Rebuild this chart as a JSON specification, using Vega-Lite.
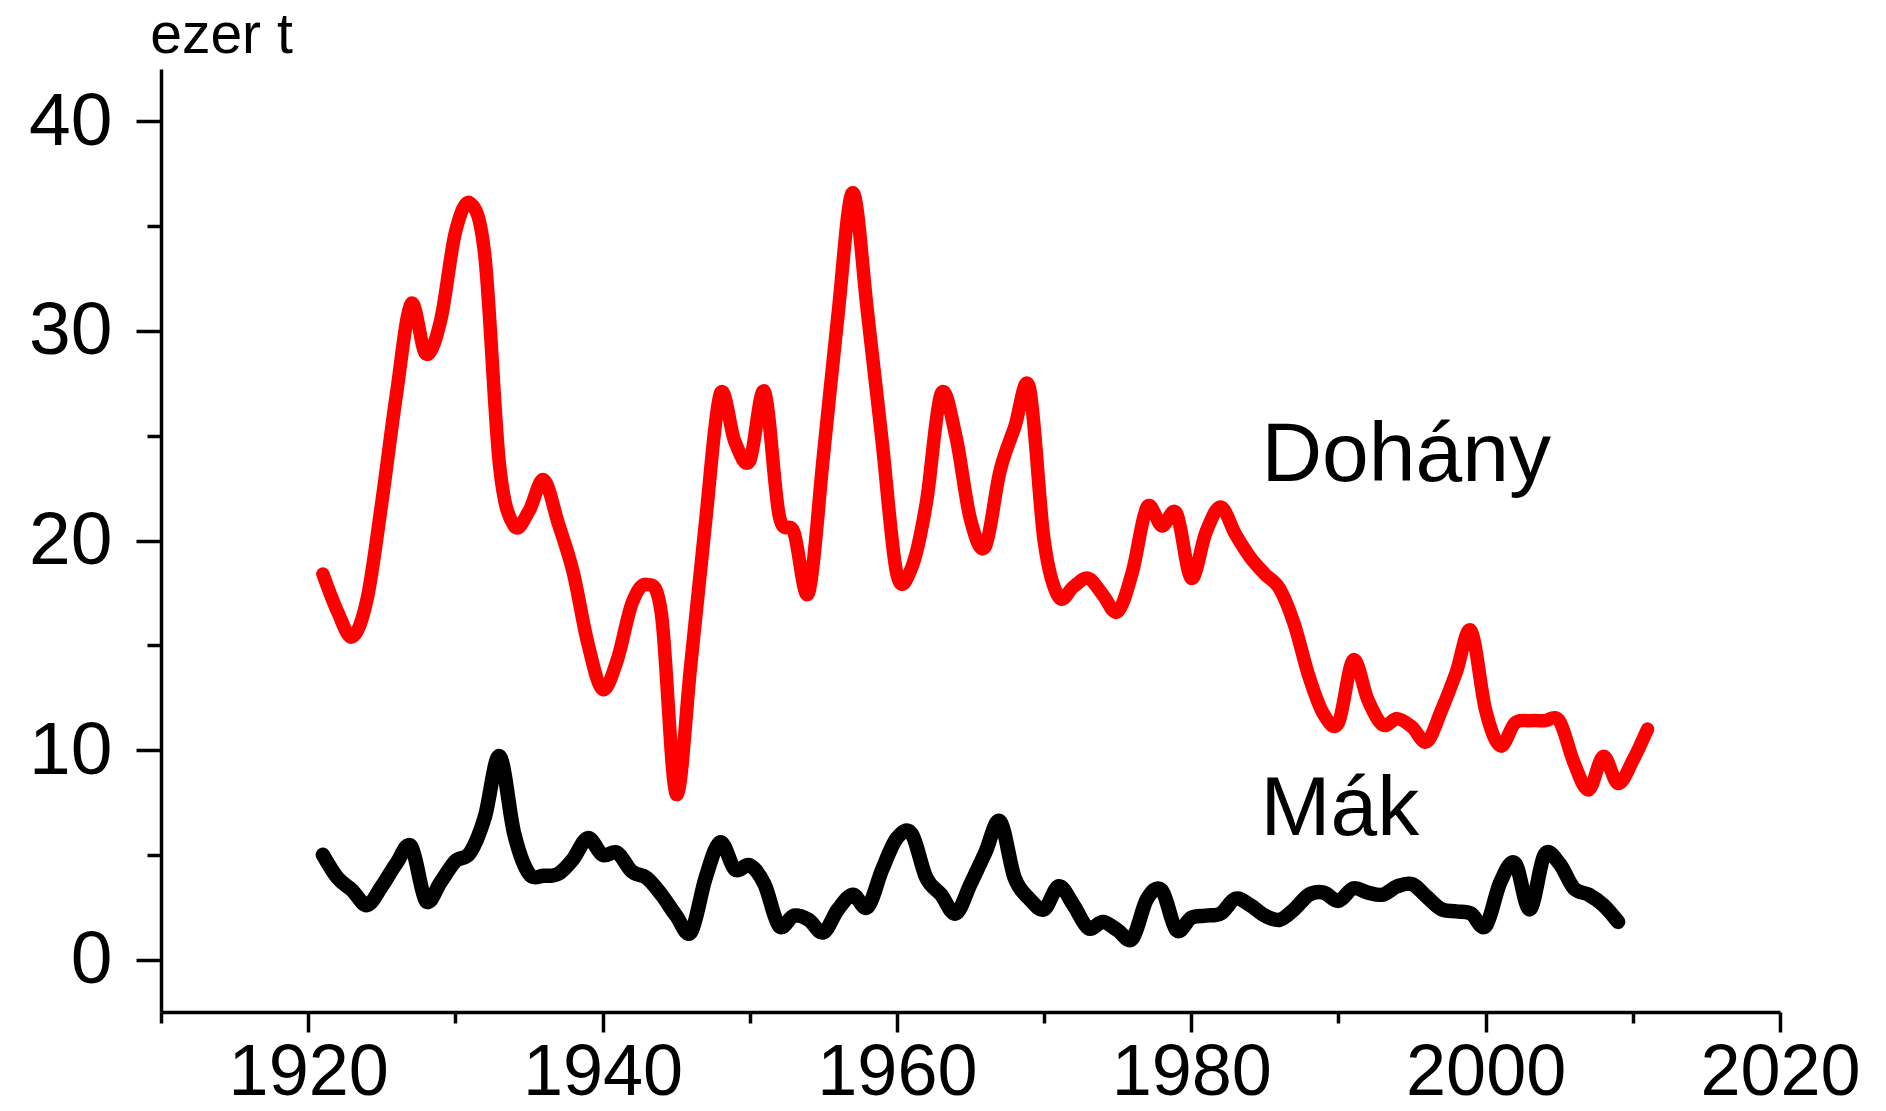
{
  "$schema": "https://vega.github.io/schema/vega-lite/v6.json",
  "width": 1619,
  "height": 943,
  "autosize": {"type": "none"},
  "padding": {"left": 161, "top": 69, "right": 106, "bottom": 99},
  "background": "white",
  "config": {
    "view": {"stroke": null},
    "axis": {
      "grid": false,
      "domainColor": "black",
      "domainWidth": 3.5,
      "tickColor": "black",
      "tickWidth": 3.5,
      "labelColor": "black",
      "labelFont": "Liberation Sans",
      "labelFontSize": 75,
      "labelOverlap": false,
      "labelFlush": false,
      "labelBound": false,
      "titleFont": "Liberation Sans",
      "titleColor": "black",
      "titleFontWeight": "normal"
    }
  },
  "datasets": {
    "prod": [
      {"year": 1921, "value": 18.4, "series": "Dohány"},
      {"year": 1922, "value": 16.6, "series": "Dohány"},
      {"year": 1923, "value": 15.4, "series": "Dohány"},
      {"year": 1924, "value": 17.2, "series": "Dohány"},
      {"year": 1925, "value": 21.8, "series": "Dohány"},
      {"year": 1926, "value": 27.0, "series": "Dohány"},
      {"year": 1927, "value": 31.3, "series": "Dohány"},
      {"year": 1928, "value": 28.9, "series": "Dohány"},
      {"year": 1929, "value": 30.5, "series": "Dohány"},
      {"year": 1930, "value": 34.7, "series": "Dohány"},
      {"year": 1931, "value": 36.1, "series": "Dohány"},
      {"year": 1932, "value": 33.6, "series": "Dohány"},
      {"year": 1933, "value": 23.6, "series": "Dohány"},
      {"year": 1934, "value": 20.7, "series": "Dohány"},
      {"year": 1935, "value": 21.4, "series": "Dohány"},
      {"year": 1936, "value": 22.9, "series": "Dohány"},
      {"year": 1937, "value": 20.8, "series": "Dohány"},
      {"year": 1938, "value": 18.5, "series": "Dohány"},
      {"year": 1939, "value": 15.1, "series": "Dohány"},
      {"year": 1940, "value": 12.9, "series": "Dohány"},
      {"year": 1941, "value": 14.3, "series": "Dohány"},
      {"year": 1942, "value": 17.0, "series": "Dohány"},
      {"year": 1943, "value": 17.9, "series": "Dohány"},
      {"year": 1944, "value": 16.5, "series": "Dohány"},
      {"year": 1945, "value": 7.9, "series": "Dohány"},
      {"year": 1946, "value": 14.1, "series": "Dohány"},
      {"year": 1947, "value": 20.9, "series": "Dohány"},
      {"year": 1948, "value": 27.0, "series": "Dohány"},
      {"year": 1949, "value": 24.7, "series": "Dohány"},
      {"year": 1950, "value": 23.8, "series": "Dohány"},
      {"year": 1951, "value": 27.1, "series": "Dohány"},
      {"year": 1952, "value": 21.2, "series": "Dohány"},
      {"year": 1953, "value": 20.4, "series": "Dohány"},
      {"year": 1954, "value": 17.5, "series": "Dohány"},
      {"year": 1955, "value": 24.0, "series": "Dohány"},
      {"year": 1956, "value": 30.8, "series": "Dohány"},
      {"year": 1957, "value": 36.6, "series": "Dohány"},
      {"year": 1958, "value": 30.9, "series": "Dohány"},
      {"year": 1959, "value": 24.7, "series": "Dohány"},
      {"year": 1960, "value": 18.4, "series": "Dohány"},
      {"year": 1961, "value": 18.7, "series": "Dohány"},
      {"year": 1962, "value": 21.8, "series": "Dohány"},
      {"year": 1963, "value": 27.0, "series": "Dohány"},
      {"year": 1964, "value": 25.0, "series": "Dohány"},
      {"year": 1965, "value": 21.0, "series": "Dohány"},
      {"year": 1966, "value": 19.7, "series": "Dohány"},
      {"year": 1967, "value": 23.3, "series": "Dohány"},
      {"year": 1968, "value": 25.4, "series": "Dohány"},
      {"year": 1969, "value": 27.3, "series": "Dohány"},
      {"year": 1970, "value": 20.0, "series": "Dohány"},
      {"year": 1971, "value": 17.3, "series": "Dohány"},
      {"year": 1972, "value": 17.8, "series": "Dohány"},
      {"year": 1973, "value": 18.2, "series": "Dohány"},
      {"year": 1974, "value": 17.4, "series": "Dohány"},
      {"year": 1975, "value": 16.6, "series": "Dohány"},
      {"year": 1976, "value": 18.5, "series": "Dohány"},
      {"year": 1977, "value": 21.6, "series": "Dohány"},
      {"year": 1978, "value": 20.7, "series": "Dohány"},
      {"year": 1979, "value": 21.3, "series": "Dohány"},
      {"year": 1980, "value": 18.2, "series": "Dohány"},
      {"year": 1981, "value": 20.4, "series": "Dohány"},
      {"year": 1982, "value": 21.6, "series": "Dohány"},
      {"year": 1983, "value": 20.3, "series": "Dohány"},
      {"year": 1984, "value": 19.2, "series": "Dohány"},
      {"year": 1985, "value": 18.4, "series": "Dohány"},
      {"year": 1986, "value": 17.7, "series": "Dohány"},
      {"year": 1987, "value": 16.0, "series": "Dohány"},
      {"year": 1988, "value": 13.5, "series": "Dohány"},
      {"year": 1989, "value": 11.7, "series": "Dohány"},
      {"year": 1990, "value": 11.3, "series": "Dohány"},
      {"year": 1991, "value": 14.3, "series": "Dohány"},
      {"year": 1992, "value": 12.4, "series": "Dohány"},
      {"year": 1993, "value": 11.2, "series": "Dohány"},
      {"year": 1994, "value": 11.5, "series": "Dohány"},
      {"year": 1995, "value": 11.1, "series": "Dohány"},
      {"year": 1996, "value": 10.4, "series": "Dohány"},
      {"year": 1997, "value": 11.9, "series": "Dohány"},
      {"year": 1998, "value": 13.7, "series": "Dohány"},
      {"year": 1999, "value": 15.7, "series": "Dohány"},
      {"year": 2000, "value": 11.9, "series": "Dohány"},
      {"year": 2001, "value": 10.2, "series": "Dohány"},
      {"year": 2002, "value": 11.3, "series": "Dohány"},
      {"year": 2003, "value": 11.4, "series": "Dohány"},
      {"year": 2004, "value": 11.4, "series": "Dohány"},
      {"year": 2005, "value": 11.4, "series": "Dohány"},
      {"year": 2006, "value": 9.4, "series": "Dohány"},
      {"year": 2007, "value": 8.1, "series": "Dohány"},
      {"year": 2008, "value": 9.7, "series": "Dohány"},
      {"year": 2009, "value": 8.4, "series": "Dohány"},
      {"year": 2010, "value": 9.5, "series": "Dohány"},
      {"year": 2011, "value": 11.0, "series": "Dohány"},
      {"year": 1921, "value": 5.0, "series": "Mák"},
      {"year": 1922, "value": 3.9, "series": "Mák"},
      {"year": 1923, "value": 3.3, "series": "Mák"},
      {"year": 1924, "value": 2.6, "series": "Mák"},
      {"year": 1925, "value": 3.5, "series": "Mák"},
      {"year": 1926, "value": 4.6, "series": "Mák"},
      {"year": 1927, "value": 5.4, "series": "Mák"},
      {"year": 1928, "value": 2.8, "series": "Mák"},
      {"year": 1929, "value": 3.7, "series": "Mák"},
      {"year": 1930, "value": 4.7, "series": "Mák"},
      {"year": 1931, "value": 5.1, "series": "Mák"},
      {"year": 1932, "value": 6.8, "series": "Mák"},
      {"year": 1933, "value": 9.7, "series": "Mák"},
      {"year": 1934, "value": 6.0, "series": "Mák"},
      {"year": 1935, "value": 4.1, "series": "Mák"},
      {"year": 1936, "value": 4.0, "series": "Mák"},
      {"year": 1937, "value": 4.1, "series": "Mák"},
      {"year": 1938, "value": 4.8, "series": "Mák"},
      {"year": 1939, "value": 5.8, "series": "Mák"},
      {"year": 1940, "value": 5.0, "series": "Mák"},
      {"year": 1941, "value": 5.1, "series": "Mák"},
      {"year": 1942, "value": 4.2, "series": "Mák"},
      {"year": 1943, "value": 3.9, "series": "Mák"},
      {"year": 1944, "value": 3.1, "series": "Mák"},
      {"year": 1945, "value": 2.1, "series": "Mák"},
      {"year": 1946, "value": 1.3, "series": "Mák"},
      {"year": 1947, "value": 3.9, "series": "Mák"},
      {"year": 1948, "value": 5.6, "series": "Mák"},
      {"year": 1949, "value": 4.3, "series": "Mák"},
      {"year": 1950, "value": 4.5, "series": "Mák"},
      {"year": 1951, "value": 3.6, "series": "Mák"},
      {"year": 1952, "value": 1.6, "series": "Mák"},
      {"year": 1953, "value": 2.1, "series": "Mák"},
      {"year": 1954, "value": 1.9, "series": "Mák"},
      {"year": 1955, "value": 1.3, "series": "Mák"},
      {"year": 1956, "value": 2.4, "series": "Mák"},
      {"year": 1957, "value": 3.1, "series": "Mák"},
      {"year": 1958, "value": 2.5, "series": "Mák"},
      {"year": 1959, "value": 4.3, "series": "Mák"},
      {"year": 1960, "value": 5.8, "series": "Mák"},
      {"year": 1961, "value": 6.0, "series": "Mák"},
      {"year": 1962, "value": 3.9, "series": "Mák"},
      {"year": 1963, "value": 3.1, "series": "Mák"},
      {"year": 1964, "value": 2.2, "series": "Mák"},
      {"year": 1965, "value": 3.6, "series": "Mák"},
      {"year": 1966, "value": 5.1, "series": "Mák"},
      {"year": 1967, "value": 6.6, "series": "Mák"},
      {"year": 1968, "value": 3.9, "series": "Mák"},
      {"year": 1969, "value": 2.9, "series": "Mák"},
      {"year": 1970, "value": 2.4, "series": "Mák"},
      {"year": 1971, "value": 3.5, "series": "Mák"},
      {"year": 1972, "value": 2.6, "series": "Mák"},
      {"year": 1973, "value": 1.5, "series": "Mák"},
      {"year": 1974, "value": 1.8, "series": "Mák"},
      {"year": 1975, "value": 1.4, "series": "Mák"},
      {"year": 1976, "value": 1.0, "series": "Mák"},
      {"year": 1977, "value": 2.9, "series": "Mák"},
      {"year": 1978, "value": 3.3, "series": "Mák"},
      {"year": 1979, "value": 1.4, "series": "Mák"},
      {"year": 1980, "value": 2.0, "series": "Mák"},
      {"year": 1981, "value": 2.1, "series": "Mák"},
      {"year": 1982, "value": 2.2, "series": "Mák"},
      {"year": 1983, "value": 2.9, "series": "Mák"},
      {"year": 1984, "value": 2.6, "series": "Mák"},
      {"year": 1985, "value": 2.1, "series": "Mák"},
      {"year": 1986, "value": 1.9, "series": "Mák"},
      {"year": 1987, "value": 2.4, "series": "Mák"},
      {"year": 1988, "value": 3.1, "series": "Mák"},
      {"year": 1989, "value": 3.2, "series": "Mák"},
      {"year": 1990, "value": 2.8, "series": "Mák"},
      {"year": 1991, "value": 3.4, "series": "Mák"},
      {"year": 1992, "value": 3.2, "series": "Mák"},
      {"year": 1993, "value": 3.1, "series": "Mák"},
      {"year": 1994, "value": 3.5, "series": "Mák"},
      {"year": 1995, "value": 3.6, "series": "Mák"},
      {"year": 1996, "value": 3.0, "series": "Mák"},
      {"year": 1997, "value": 2.4, "series": "Mák"},
      {"year": 1998, "value": 2.3, "series": "Mák"},
      {"year": 1999, "value": 2.2, "series": "Mák"},
      {"year": 2000, "value": 1.6, "series": "Mák"},
      {"year": 2001, "value": 3.7, "series": "Mák"},
      {"year": 2002, "value": 4.6, "series": "Mák"},
      {"year": 2003, "value": 2.4, "series": "Mák"},
      {"year": 2004, "value": 5.0, "series": "Mák"},
      {"year": 2005, "value": 4.6, "series": "Mák"},
      {"year": 2006, "value": 3.4, "series": "Mák"},
      {"year": 2007, "value": 3.1, "series": "Mák"},
      {"year": 2008, "value": 2.6, "series": "Mák"},
      {"year": 2009, "value": 1.8, "series": "Mák"}
    ],
    "labels": [
      {"year": 1994.6, "value": 22.86, "label": "Dohány"},
      {"year": 1990.1, "value": 5.93, "label": "Mák"}
    ]
  },
  "encoding": {
    "x": {
      "field": "year",
      "type": "quantitative",
      "scale": {"domain": [1910, 2020], "nice": false, "zero": false},
      "axis": {
        "title": null,
        "values": [1910, 1920, 1930, 1940, 1950, 1960, 1970, 1980, 1990, 2000, 2010, 2020],
        "format": "d",
        "labelExpr": "datum.value % 20 === 0 ? datum.label : ''",
        "tickSize": {"condition": {"test": "datum.value % 20 === 0", "value": 20}, "value": 11},
        "labelFontSize": 72,
        "labelPadding": 5,
        "labelAlign": "center"
      }
    },
    "y": {
      "field": "value",
      "type": "quantitative",
      "scale": {"domain": [-2.5, 42.5], "nice": false, "zero": false},
      "axis": {
        "title": "ezer t",
        "titleAngle": 0,
        "titleFontSize": 57,
        "titleAlign": "center",
        "titleBaseline": "alphabetic",
        "titleX": 60,
        "titleY": -17,
        "values": [0, 5, 10, 15, 20, 25, 30, 35, 40],
        "labelExpr": "datum.value % 10 === 0 ? datum.label : ''",
        "tickSize": {"condition": {"test": "datum.value % 10 === 0", "value": 25}, "value": 14},
        "labelPadding": 24,
        "labelBaseline": "middle"
      }
    }
  },
  "layer": [
    {
      "data": {"name": "prod"},
      "transform": [{"filter": "datum.series === 'Dohány'"}],
      "mark": {"type": "line", "color": "#ff0000", "strokeWidth": 13.5, "strokeCap": "round", "strokeJoin": "round", "interpolate": "cardinal", "tension": 0}
    },
    {
      "data": {"name": "prod"},
      "transform": [{"filter": "datum.series === 'Mák'"}],
      "mark": {"type": "line", "color": "#000000", "strokeWidth": 14.5, "strokeCap": "round", "strokeJoin": "round", "interpolate": "cardinal", "tension": 0}
    },
    {
      "data": {"name": "labels"},
      "mark": {"type": "text", "font": "Liberation Sans", "fontSize": 84, "align": "center", "baseline": "alphabetic", "color": "black"},
      "encoding": {"text": {"field": "label"}}
    }
  ]
}
